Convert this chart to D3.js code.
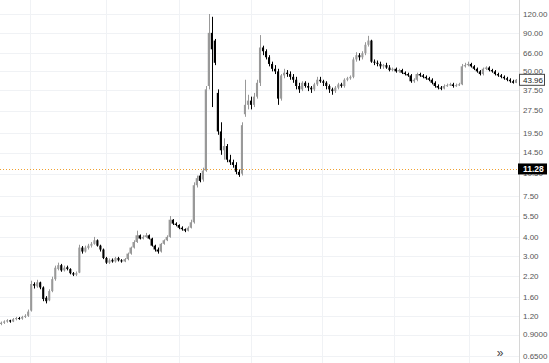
<html>
<head>
<script src="https://d3js.org/d3.v7.min.js"></script>
<style>
body { margin: 0; background: #fff; font-family: "Liberation Sans", Arial, sans-serif; }
svg { display: block; }
</style>
</head>
<body>
<script>
// candles, left to right (daily-ish bars)
var opens = [
  1.06,1.08,1.10,1.12,1.10,1.14,1.16,1.15,1.18,1.20,
  1.30,1.95,1.88,2.00,1.85,1.58,1.52,1.75,2.10,2.45,
  2.60,2.40,2.52,2.45,2.30,2.25,2.32,3.40,3.20,3.38,
  3.50,3.60,3.80,3.50,3.30,2.90,2.70,2.82,2.75,2.90,
  2.80,2.75,2.85,3.10,3.40,3.70,4.10,3.90,4.00,4.10,
  3.90,3.50,3.30,3.20,3.60,3.80,4.00,5.20,4.90,4.80,
  4.60,4.50,4.40,4.60,5.00,8.80,10.2,9.60,11.0,40.0,
  90,80,36,20,15,16,13,12.5,12,10.8,
  10.5,26,30,32,30,34,42,72,68,62,
  56,52,50,33,47,49,48,46,44,40,
  38,42,40,39,38,41,44,43,42,40,
  38,37,39,41,40,44,45,46,60,64,
  62,66,75,80,58,57,56,54,55,53,
  51,52,50,51,49,48,47,43,44,48,
  47,46,45,44,42,40,39,38.5,40,40.5,
  41,40,40.5,41,54,55,56,54,52,50,
  48,52,53,51,50,48,47,46,45,44,43,42
];
var highs = [
  1.10,1.12,1.14,1.13,1.16,1.18,1.18,1.20,1.23,1.32,
  2.05,2.00,2.08,2.02,1.88,1.62,1.80,2.18,2.58,2.70,
  2.65,2.58,2.58,2.48,2.34,2.36,3.55,3.48,3.50,3.60,
  3.70,4.00,3.85,3.55,3.35,2.95,2.88,2.88,2.95,2.95,
  2.85,2.90,3.15,3.45,3.80,4.40,4.15,4.10,4.25,4.15,
  3.95,3.55,3.40,3.65,3.85,4.10,5.50,5.25,5.00,4.85,
  4.70,4.55,4.70,5.20,9.20,10.2,10.6,11.5,40.0,120,
  115,82,38,23,18,16.5,14,13,12.5,11.2,
  23,44,35,34,36,44,87,74,70,64,
  58,55,52,48,52,51,50,48,46,42,
  43,43,42,40,42,46,46,44,43,41,
  39,40,42,42,45,46,47,62,67,66,
  68,78,86,81,60,59,58,56,57,55,
  53,53,52,52,50,49,48,45,49,49,
  48,47,46,45,43,41,40,41,41.5,42,
  42,41.5,42,56,57,58,57,55,53,51,
  53,54,54,52,51,49,48,47,46,45,44,44.5
];
var lows = [
  1.04,1.06,1.08,1.08,1.09,1.12,1.13,1.13,1.16,1.18,
  1.28,1.82,1.84,1.80,1.50,1.45,1.50,1.72,2.05,2.40,
  2.35,2.36,2.40,2.26,2.20,2.20,2.30,3.10,3.15,3.30,
  3.40,3.55,3.45,3.20,2.85,2.65,2.65,2.70,2.70,2.75,
  2.70,2.72,2.80,3.05,3.35,3.65,3.85,3.85,3.95,3.85,
  3.45,3.20,3.10,3.15,3.55,3.75,3.95,4.80,4.70,4.50,
  4.40,4.30,4.35,4.55,4.90,8.50,9.20,9.30,10.8,38.0,
  29,55,19,14,13,12.5,12,11.5,10.4,10.0,
  10.2,25,28,28,29,33,40,64,60,54,
  50,48,30,32,45,46,44,42,38,36,
  37,39,37,36,37,40,42,40,38,36,
  35,36,38,39,39,43,44,45,58,59,
  60,64,73,57,55,54,52,52,52,50,
  50,49,49,48,47,46,42,42,43,46,
  45,44,43,41,39,38,37.5,38,39.5,40,
  39,39.5,40,40.5,53,54,53,51,49,47,
  47,51,50,49,47,46,45,44,43,42,41.5,41.8
];
var closes = [
  1.08,1.10,1.12,1.10,1.14,1.16,1.15,1.18,1.20,1.28,
  1.95,1.90,2.00,1.85,1.55,1.50,1.75,2.10,2.50,2.60,
  2.40,2.50,2.45,2.30,2.25,2.30,3.40,3.20,3.40,3.50,
  3.60,3.80,3.50,3.30,2.90,2.70,2.80,2.75,2.90,2.80,
  2.75,2.85,3.10,3.40,3.70,4.10,3.90,4.00,4.10,3.90,
  3.50,3.30,3.20,3.60,3.80,4.00,5.20,4.90,4.80,4.60,
  4.50,4.40,4.60,5.00,8.80,9.80,9.40,11.0,38.0,90.0,
  70,57,20,15,16,13,12.5,12,10.8,10.3,
  22,30,32,30,34,42,72,68,62,56,
  52,50,33,47,49,48,46,44,40,38,
  42,40,39,38,41,44,43,42,40,38,
  37,39,41,40,44,45,46,60,64,62,
  66,75,80,58,57,56,54,55,53,51,
  52,50,51,49,48,47,43,44,48,47,
  46,45,44,42,40,39,38.5,40,40.5,41,
  40,40.5,41,54,55,56,54,52,50,48,
  52,53,51,50,48,47,46,45,44,43,42,43.96
];

var priceTicks = [120, 90, 66, 50, 37.5, 27.5, 19.5, 14.5, 10.5, 7.5, 5.5, 4, 3, 2.2, 1.6, 1.2, 0.9, 0.65];
var gridX = [30, 106, 179, 251, 322, 394, 469]; // faint vertical grid (time)
var lastPrice = 43.96;
var linePrice = 11.28;

var width = 549, height = 363, axisX = 519;

var svg = d3.select("body").append("svg")
    .attr("width", width)
    .attr("height", height);

var y = d3.scaleLog().domain([0.65, 120]).range([356, 14]);
var x = d3.scaleBand()
    .domain(d3.range(closes.length))
    .range([0, axisX - 2])
    .paddingInner(0.3);

var fmt = function(v) { return v < 1 ? v.toFixed(4) : v.toFixed(2); };
var upCol = "#999", downCol = "#000";

// grid
svg.append("g").selectAll("line")
    .data(priceTicks).enter().append("line")
    .attr("x1", 0).attr("x2", axisX)
    .attr("y1", function(d) { return Math.round(y(d)) + 0.5; })
    .attr("y2", function(d) { return Math.round(y(d)) + 0.5; })
    .attr("stroke", "#f0f2f5");
svg.append("g").selectAll("line")
    .data(gridX).enter().append("line")
    .attr("x1", function(d) { return d + 0.5; })
    .attr("x2", function(d) { return d + 0.5; })
    .attr("y1", 0).attr("y2", height)
    .attr("stroke", "#f0f2f5");

// orange dotted level line
svg.append("line")
    .attr("x1", 0).attr("x2", axisX)
    .attr("y1", Math.round(y(linePrice)) + 0.5)
    .attr("y2", Math.round(y(linePrice)) + 0.5)
    .attr("stroke", "#f0a030")
    .attr("stroke-dasharray", "1,2");

// candles
var bars = svg.append("g").selectAll("g")
    .data(closes).enter().append("g");

bars.append("line")
    .attr("x1", function(d, i) { return Math.round(x(i) + x.bandwidth() / 2) + 0.5; })
    .attr("x2", function(d, i) { return Math.round(x(i) + x.bandwidth() / 2) + 0.5; })
    .attr("y1", function(d, i) { return y(highs[i]); })
    .attr("y2", function(d, i) { return y(lows[i]); })
    .attr("stroke", function(d, i) { return d >= opens[i] ? upCol : downCol; });

bars.append("rect")
    .attr("x", function(d, i) { return x(i); })
    .attr("width", x.bandwidth())
    .attr("y", function(d, i) { return y(Math.max(d, opens[i])); })
    .attr("height", function(d, i) { return Math.max(1, Math.abs(y(d) - y(opens[i]))); })
    .attr("fill", function(d, i) { return d >= opens[i] ? upCol : downCol; });

// price axis
svg.append("line")
    .attr("x1", axisX + 0.5).attr("x2", axisX + 0.5)
    .attr("y1", 0).attr("y2", height)
    .attr("stroke", "#d6d6d6");

svg.append("g").selectAll("text")
    .data(priceTicks).enter().append("text")
    .attr("x", axisX + 4)
    .attr("y", function(d) { return y(d); })
    .attr("dy", "0.35em")
    .attr("font-size", 8)
    .attr("fill", "#555")
    .text(fmt);

// last price box
svg.append("rect")
    .attr("x", axisX + 0.5).attr("y", y(lastPrice) - 5.5)
    .attr("width", 25).attr("height", 11)
    .attr("fill", "#fff").attr("stroke", "#444");
svg.append("text")
    .attr("x", axisX + 4).attr("y", y(lastPrice))
    .attr("dy", "0.35em")
    .attr("font-size", 8).attr("fill", "#222")
    .text(fmt(lastPrice));

// level label
svg.append("rect")
    .attr("x", axisX - 1).attr("y", y(linePrice) - 5.5)
    .attr("width", 29).attr("height", 11)
    .attr("fill", "#000");
svg.append("text")
    .attr("x", axisX + 4).attr("y", y(linePrice))
    .attr("dy", "0.35em")
    .attr("font-size", 8.5).attr("font-weight", "bold").attr("fill", "#fff")
    .text(fmt(linePrice));

// scroll button
svg.append("text")
    .attr("x", 500).attr("y", 357)
    .attr("text-anchor", "middle")
    .attr("font-size", 12).attr("fill", "#444")
    .text("»");
</script>
</body>
</html>
